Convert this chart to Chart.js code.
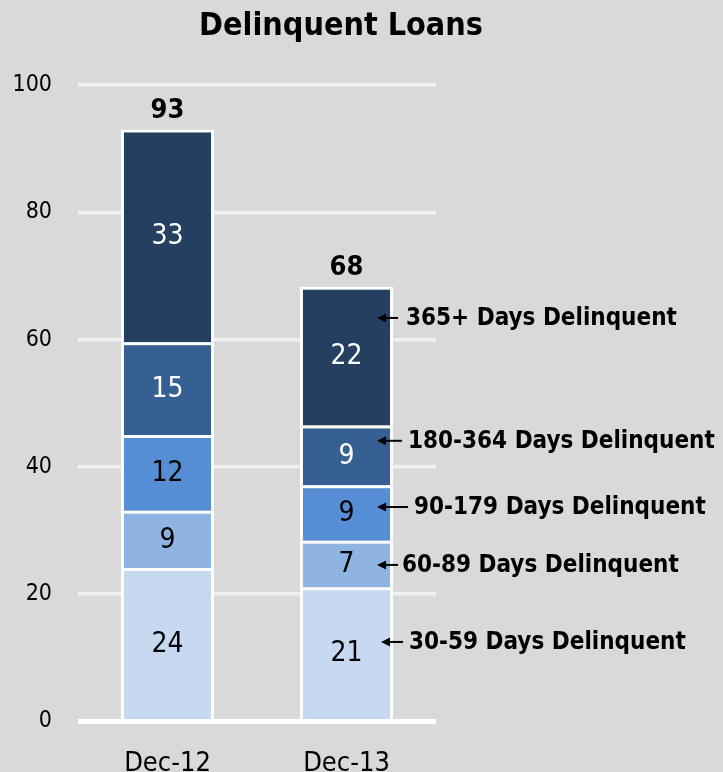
<!DOCTYPE html>
<html><head><meta charset="utf-8">
<script src="https://cdn.jsdelivr.net/npm/chart.js@4/dist/chart.umd.min.js"></script>
<style>html,body{margin:0;padding:0;background:#d9d9d9;}#wrap{width:723px;height:772px;}</style>
</head><body><div id="wrap"><canvas id="c" width="723" height="772"></canvas></div>
<script>
const titleText = 'Delinquent Loans';
const categories = ['Dec-12', 'Dec-13'];
const seriesNames = ['30-59 Days Delinquent', '60-89 Days Delinquent', '90-179 Days Delinquent', '180-364 Days Delinquent', '365+ Days Delinquent'];
const days30to59 = [24.1, 21.1];
const days60to89 = [9.0, 7.3];
const days90to179 = [11.9, 8.7];
const days180to364 = [14.6, 9.4];
const days365plus = [33.4, 21.8];
const yTicks = [0, 20, 40, 60, 80, 100];

const seriesValues = [days30to59, days60to89, days90to179, days180to364, days365plus];
const seriesColors = ['#c6d9f1', '#8eb4e3', '#558ed5', '#376092', '#253f60'];
const labelColors = ['#000', '#000', '#000', '#fff', '#fff'];
// callout layout (per series): y level on the axis, pixel offsets relative to right edge of Dec-13 bar
const calloutLayout = [
  {level: 12.5, tip: -12, tail: 10, text: 16},
  {level: 24.6, tip: -16, tail: 5, text: 9},
  {level: 33.7, tip: -16, tail: 15, text: 21},
  {level: 44.1, tip: -16, tail: 9, text: 15},
  {level: 63.4, tip: -16, tail: 5, text: 13}
];
const FONT = "'DejaVu Sans Condensed', 'DejaVu Sans', sans-serif";

const bgPlugin = {
  id: 'bg',
  beforeDraw(chart) {
    const ctx = chart.ctx;
    ctx.save();
    ctx.fillStyle = '#d9d9d9';
    ctx.fillRect(0, 0, chart.width, chart.height);
    ctx.restore();
  }
};

const labelPlugin = {
  id: 'labels',
  afterDatasetsDraw(chart) {
    const ctx = chart.ctx;
    ctx.save();
    ctx.textAlign = 'center';
    ctx.textBaseline = 'middle';
    chart.data.datasets.forEach((ds, di) => {
      const meta = chart.getDatasetMeta(di);
      meta.data.forEach((el, i) => {
        const v = ds.data[i];
        ctx.fillStyle = labelColors[di];
        ctx.font = "normal 28px " + FONT;
        ctx.fillText(String(Math.round(v)), el.x, (el.y + el.base) / 2 + 1);
      });
    });
    // totals
    const lastMeta = chart.getDatasetMeta(chart.data.datasets.length - 1);
    lastMeta.data.forEach((el, i) => {
      let total = 0;
      chart.data.datasets.forEach(ds => total += ds.data[i]);
      ctx.fillStyle = '#000';
      ctx.font = "bold 27px " + FONT;
      ctx.fillText(String(Math.round(total)), el.x, el.y - 19);
    });
    ctx.restore();
  }
};

const decorPlugin = {
  id: 'decor',
  afterDraw(chart) {
    const ctx = chart.ctx;
    ctx.save();
    // title
    ctx.fillStyle = '#000';
    ctx.font = "bold 32px " + FONT;
    ctx.textAlign = 'center';
    ctx.textBaseline = 'middle';
    ctx.fillText(titleText, 341, 27);
    // callouts
    const yScale = chart.scales.y;
    ctx.font = "bold 24px " + FONT;
    ctx.textAlign = 'left';
    seriesNames.forEach((name, di) => {
      const el = chart.getDatasetMeta(di).data[1];
      const right = el.x + el.width / 2;
      const L = calloutLayout[di];
      const y = yScale.getPixelForValue(L.level);
      const tipX = right + L.tip, tailX = right + L.tail;
      ctx.strokeStyle = '#000';
      ctx.lineWidth = 2;
      ctx.beginPath();
      ctx.moveTo(tailX, y);
      ctx.lineTo(tipX + 6, y);
      ctx.stroke();
      ctx.beginPath();
      ctx.moveTo(tipX, y);
      ctx.lineTo(tipX + 9, y - 4.5);
      ctx.lineTo(tipX + 9, y + 4.5);
      ctx.closePath();
      ctx.fillStyle = '#000';
      ctx.fill();
      ctx.fillText(name, right + L.text, y + 1);
    });
    ctx.restore();
  }
};

new Chart(document.getElementById('c'), {
  type: 'bar',
  data: {
    labels: categories,
    datasets: seriesNames.map((name, i) => ({
      label: name,
      data: seriesValues[i],
      backgroundColor: seriesColors[i],
      borderColor: '#ffffff',
      borderWidth: 3,
      borderSkipped: 'start',
      barPercentage: 0.52,
      categoryPercentage: 1.0
    }))
  },
  options: {
    responsive: false,
    animation: false,
    devicePixelRatio: 1,
    layout: {padding: {top: 85, right: 287, left: 0, bottom: 0}},
    plugins: {legend: {display: false}, title: {display: false}, tooltip: {enabled: false}},
    scales: {
      x: {
        stacked: true,
        grid: {display: false},
        border: {display: false},
        ticks: {color: '#000', font: {family: FONT, size: 27}, padding: 18},
        afterFit(s) { s.height = 50.5; }
      },
      y: {
        stacked: true,
        min: 0,
        max: 100,
        afterBuildTicks(s) { s.ticks = yTicks.map(v => ({value: v})); },
        grid: {
          drawTicks: false,
          color(c) { return c.tick && c.tick.value === 0 ? '#ffffff' : '#f0f0f0'; },
          lineWidth(c) { return c.tick && c.tick.value === 0 ? 5 : 3.5; }
        },
        border: {display: false},
        ticks: {color: '#000', padding: 26, font: {family: FONT, size: 23}},
        afterFit(s) { s.width = 78; }
      }
    }
  },
  plugins: [bgPlugin, labelPlugin, decorPlugin]
});
</script>
</body></html>
